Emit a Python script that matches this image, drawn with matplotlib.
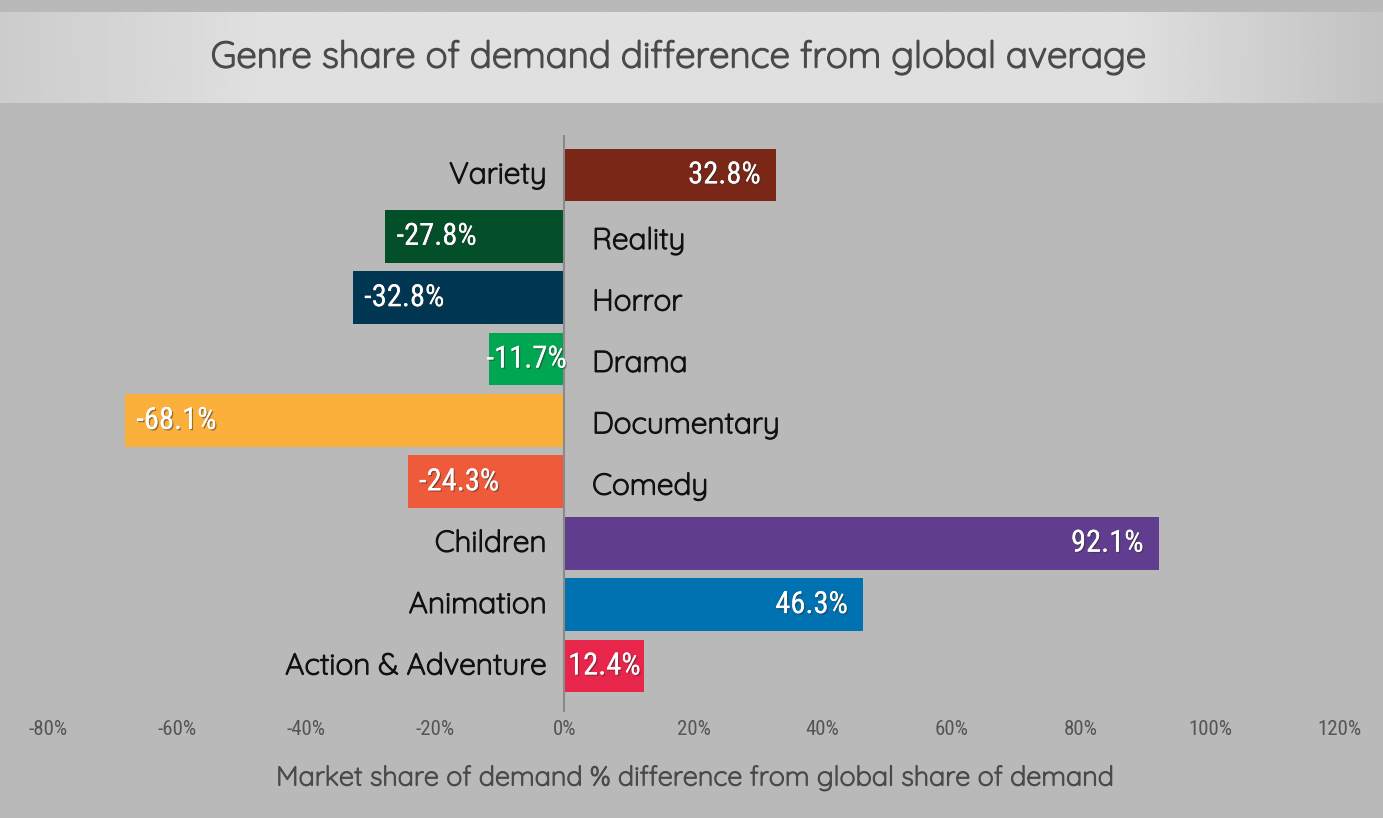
import numpy as np
import matplotlib
matplotlib.use("Agg")
import matplotlib.pyplot as plt
import matplotlib.patheffects as pe

# data, bottom to top
genres = ["Action & Adventure", "Animation", "Children", "Comedy", "Documentary",
          "Drama", "Horror", "Reality", "Variety"]
values = [12.4, 46.3, 92.1, -24.3, -68.1, -11.7, -32.8, -27.8, 32.8]
colors = ["#e8254a", "#0071b1", "#613d8f", "#ef5a3b", "#fbb03b",
          "#00a651", "#003652", "#024f29", "#7a2718"]
ticks = [-80, -60, -40, -20, 0, 20, 40, 60, 80, 100, 120]

GEO = "Quicksand"
COND = "Roboto Condensed"


def thick(color, w=0.9):
    # Quicksand only comes in a light cut here, so fatten it a little
    return [pe.withStroke(linewidth=w, foreground=color)]


fig = plt.figure(figsize=(13.83, 8.18), dpi=100)
fig.patch.set_facecolor("#b9b9b9")

# title band with horizontal gradient
band = fig.add_axes([0, 1 - 103 / 818, 1, 91 / 818])
grad = np.concatenate([np.linspace(0.80, 0.875, 100), np.full(340, 0.875),
                       np.linspace(0.875, 0.76, 100)])
band.imshow(grad[None, :], aspect="auto", cmap="gray", vmin=0, vmax=1,
            extent=[0, 1, 0, 1])
band.axis("off")
band.text(0.49, 0.5, "Genre share of demand difference from global average",
          ha="center", va="center", fontsize=26.5, color="#4a4a4a",
          family=GEO, path_effects=thick("#4a4a4a", 1.1))

ax = fig.add_axes([48 / 1383, 106 / 818, 1291 / 1383, 577 / 818])
ax.set_facecolor("none")
y = np.arange(len(genres))
ax.barh(y, values, height=0.86, color=colors)
ax.set_xlim(-80, 120)
ax.set_ylim(-0.75, 8.65)
ax.axvline(0, color="#8a8a8a", lw=1.5, ymin=0, ymax=1)

shadow = [pe.withSimplePatchShadow(offset=(1, -1), shadow_rgbFace="#333333", alpha=0.5),
          pe.Normal()]
for i, v in enumerate(values):
    # category label on the opposite side of zero
    if v > 0:
        ax.text(-2.8, i, genres[i], ha="right", va="center", fontsize=21.5,
                color="#111111", family=GEO, path_effects=thick("#111111"))
    else:
        ax.text(4.3, i - 0.07, genres[i], ha="left", va="center", fontsize=21.5,
                color="#111111", family=GEO, path_effects=thick("#111111"))
    xpos = v - np.sign(v) * min(8, abs(v) / 2)
    ax.text(xpos, i, f"{v:.1f}%", ha="center", va="center", fontsize=22,
            color="white", family=COND, path_effects=shadow)

ax.set_xticks(ticks)
ax.set_xticklabels([f"{t}%" for t in ticks], family=COND,
                   fontsize=15, color="#555555")
ax.tick_params(axis="x", length=0, pad=6)
ax.set_yticks([])
for s in ax.spines.values():
    s.set_visible(False)

fig.text(0.503, 1 - 778 / 818, "Market share of demand % difference from global share of demand",
         ha="center", va="center", fontsize=19.5, color="#4a4a4a", family=GEO,
         path_effects=thick("#4a4a4a", 0.8))

fig.savefig("out.png", dpi=100, facecolor=fig.get_facecolor())
